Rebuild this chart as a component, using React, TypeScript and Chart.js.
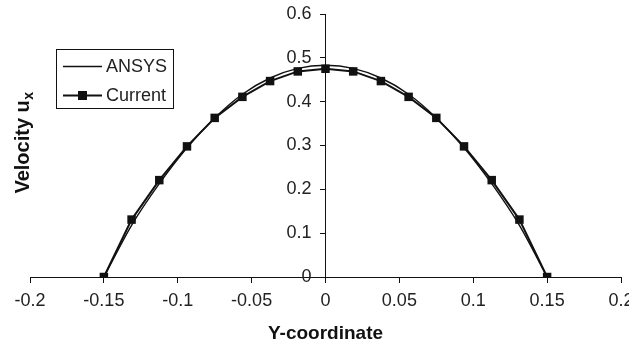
import React, { useEffect, useRef } from "react";
import { Chart, registerables } from "chart.js";

Chart.register(...registerables);

const positions = [-0.15, -0.13125, -0.1125, -0.09375, -0.075, -0.05625, -0.0375, -0.01875, 0, 0.01875, 0.0375, 0.05625, 0.075, 0.09375, 0.1125, 0.13125, 0.15];
const ansysValues = [0, 0.118, 0.213, 0.295, 0.363, 0.417, 0.454, 0.476, 0.483, 0.476, 0.454, 0.417, 0.363, 0.295, 0.213, 0.118, 0];
const currentValues = [0, 0.131, 0.221, 0.298, 0.363, 0.411, 0.447, 0.469, 0.475, 0.469, 0.447, 0.411, 0.363, 0.298, 0.221, 0.131, 0];
const seriesLabels = ["ANSYS", "Current"];
const xTitle = "Y-coordinate";
const yTitleMain = "Velocity u";
const yTitleSub = "x";

const FONT = "'Liberation Sans', Arial, sans-serif";

const fmt = (v: number) => String(Number(Number(v).toFixed(2)));

const legendPlugin = {
  id: "customLegend",
  afterDraw(chart: any) {
    const ctx = chart.ctx;
    ctx.save();
    // legend box
    ctx.strokeStyle = "#111";
    ctx.lineWidth = 1;
    ctx.strokeRect(56.5, 49.5, 117, 59);
    const rows = [66.5, 95.5];
    ctx.font = `18px ${FONT}`;
    ctx.textBaseline = "middle";
    ctx.textAlign = "left";
    chart.data.datasets.forEach((ds: any, i: number) => {
      const y = rows[i];
      ctx.strokeStyle = ds.borderColor;
      ctx.lineWidth = ds.borderWidth;
      ctx.beginPath();
      ctx.moveTo(63, y);
      ctx.lineTo(102, y);
      ctx.stroke();
      if (ds.pointRadius > 0) {
        ctx.fillStyle = ds.pointBackgroundColor;
        ctx.fillRect(78, y - 4.5, 9, 9);
      }
      ctx.fillStyle = "#222";
      ctx.fillText(ds.label, 106, y + 1);
    });
    // y-axis title
    ctx.translate(22, 143);
    ctx.rotate(-Math.PI / 2);
    ctx.font = `bold 20px ${FONT}`;
    const wMain = ctx.measureText(yTitleMain).width;
    ctx.font = `bold 14px ${FONT}`;
    const wSub = ctx.measureText(yTitleSub).width;
    const total = wMain + wSub;
    ctx.textAlign = "left";
    ctx.textBaseline = "alphabetic";
    ctx.fillStyle = "#111";
    ctx.font = `bold 20px ${FONT}`;
    ctx.fillText(yTitleMain, -total / 2, 7);
    ctx.font = `bold 14px ${FONT}`;
    ctx.fillText(yTitleSub, -total / 2 + wMain + 0.5, 11);
    ctx.restore();
  },
};

export default function App() {
  const canvasRef = useRef<HTMLCanvasElement | null>(null);

  useEffect(() => {
    if (!canvasRef.current) return;
    Chart.defaults.font.family = FONT;
    const chart = new Chart(canvasRef.current, {
      type: "scatter",
      data: {
        datasets: [
          {
            label: seriesLabels[0],
            data: positions.map((x, i) => ({ x, y: ansysValues[i] })),
            showLine: true,
            borderColor: "#111",
            backgroundColor: "#111",
            borderWidth: 1.4,
            pointRadius: 0,
            pointHoverRadius: 0,
            cubicInterpolationMode: "monotone",
          },
          {
            label: seriesLabels[1],
            data: positions.map((x, i) => ({ x, y: currentValues[i] })),
            showLine: true,
            borderColor: "#111",
            backgroundColor: "#111",
            pointBackgroundColor: "#111",
            pointBorderColor: "#111",
            borderWidth: 2,
            pointStyle: "rect",
            pointRadius: 6,
            pointBorderWidth: 0,
            tension: 0,
          },
        ],
      },
      options: {
        responsive: false,
        animation: false,
        events: [],
        layout: { padding: { left: 30, right: 8, top: 14, bottom: 0 } },
        plugins: {
          legend: { display: false },
          tooltip: { enabled: false },
        },
        scales: {
          x: {
            type: "linear",
            position: "bottom",
            min: -0.2,
            max: 0.2,
            ticks: {
              stepSize: 0.05,
              callback: (v: any) => fmt(v),
              font: { size: 18 },
              color: "#222",
              padding: 7,
              maxRotation: 0,
              autoSkip: false,
            },
            grid: {
              display: true,
              drawOnChartArea: false,
              drawTicks: true,
              tickLength: 6,
              color: "#111",
            },
            border: { display: true, color: "#111", width: 1 },
            title: {
              display: true,
              text: xTitle,
              font: { size: 19, weight: "bold" },
              color: "#111",
              padding: { top: 3, bottom: 0 },
            },
            afterFit: (s: any) => {
              s.height = 68;
              s.paddingLeft = 0;
              s.paddingRight = 0;
            },
          },
          y: {
            type: "linear",
            position: "center",
            min: 0,
            max: 0.6,
            ticks: {
              stepSize: 0.1,
              callback: (v: any) => fmt(v),
              font: { size: 18 },
              color: "#222",
              padding: 9,
            },
            grid: {
              display: true,
              drawOnChartArea: false,
              drawTicks: true,
              tickLength: 5,
              color: "#111",
            },
            border: { display: true, color: "#111", width: 1 },
            afterFit: (s: any) => {
              s.paddingTop = 0;
              s.paddingBottom = 0;
            },
          },
        },
      },
      plugins: [legendPlugin],
    } as any);
    return () => chart.destroy();
  }, []);

  return (
    <div style={{ position: "fixed", left: 0, top: 0, width: 629, height: 345, background: "#fff" }}>
      <canvas ref={canvasRef} width={629} height={345} style={{ width: 629, height: 345 }} />
    </div>
  );
}
